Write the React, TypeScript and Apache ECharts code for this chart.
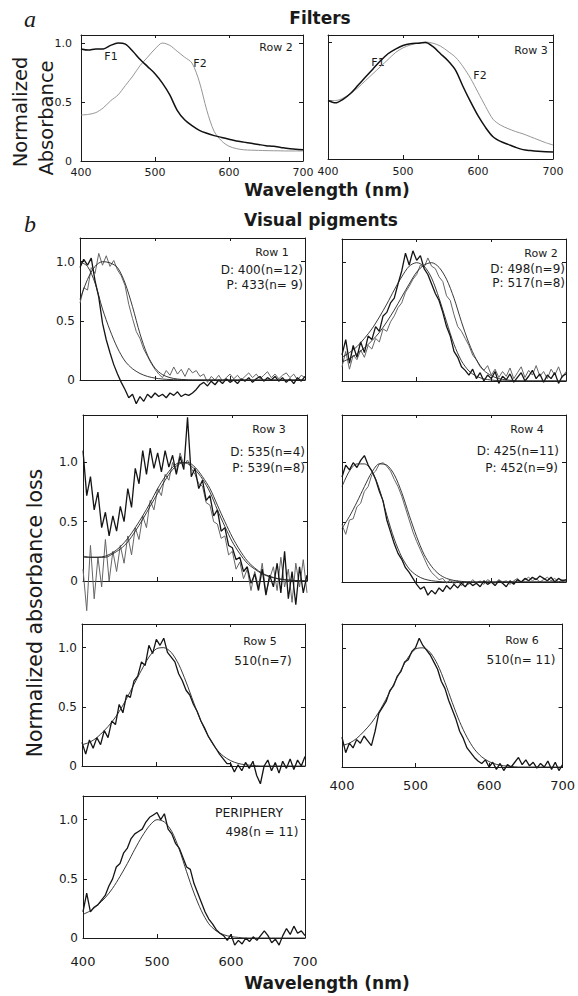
import React, { useEffect, useRef } from "react";
import * as echarts from "echarts";

// ---------- wavelength samplings (nm) ----------
const WL5 = [
  400, 405, 410, 415, 420, 425, 430, 435, 440, 445,
  450, 455, 460, 465, 470, 475, 480, 485, 490, 495,
  500, 505, 510, 515, 520, 525, 530, 535, 540, 545,
  550, 555, 560, 565, 570, 575, 580, 585, 590, 595,
  600, 605, 610, 615, 620, 625, 630, 635, 640, 645,
  650, 655, 660, 665, 670, 675, 680, 685, 690, 695,
  700,
];
const WL10 = [
  400, 410, 420, 430, 440, 450, 460, 470, 480, 490,
  500, 510, 520, 530, 540, 550, 560, 570, 580, 590,
  600, 610, 620, 630, 640, 650, 660, 670, 680, 690,
  700,
];
const X_TICKS = [400, 500, 600, 700];

// ---------- (a) Filters ----------
const FILT_ROW2_F1 = [0.95, 0.94, 0.95, 0.95, 0.98, 1.0, 0.99, 0.93, 0.86, 0.8, 0.74, 0.66, 0.56, 0.43, 0.35, 0.3, 0.26, 0.235, 0.215, 0.2, 0.185, 0.17, 0.16, 0.15, 0.14, 0.13, 0.125, 0.115, 0.105, 0.1, 0.095];
const FILT_ROW2_F2 = [0.39, 0.395, 0.41, 0.45, 0.51, 0.56, 0.64, 0.72, 0.81, 0.88, 0.95, 1.0, 0.98, 0.93, 0.88, 0.83, 0.67, 0.43, 0.25, 0.17, 0.125, 0.105, 0.095, 0.092, 0.09, 0.088, 0.087, 0.086, 0.085, 0.085, 0.085];
const FILT_ROW3_F1 = [0.5, 0.48, 0.51, 0.56, 0.63, 0.7, 0.77, 0.84, 0.9, 0.94, 0.97, 0.985, 0.99, 0.995, 0.96, 0.9, 0.84, 0.76, 0.62, 0.49, 0.37, 0.27, 0.19, 0.15, 0.125, 0.1, 0.08, 0.072, 0.066, 0.062, 0.06];
const FILT_ROW3_F2 = [0.5, 0.5, 0.52, 0.56, 0.61, 0.67, 0.73, 0.79, 0.85, 0.91, 0.95, 0.975, 0.99, 1.0, 0.99, 0.965, 0.92, 0.87, 0.79, 0.69, 0.57, 0.45, 0.34, 0.29, 0.26, 0.235, 0.215, 0.19, 0.165, 0.14, 0.12];

// ---------- (b) Visual pigments: measured difference spectra (5 nm) ----------
const ROW1_D = [
  0.95, 1.02, 0.97, 1.03, 0.84, 0.7, 0.48, 0.34, 0.23, 0.13,
  0.05, -0.02, -0.08, -0.15, -0.12, -0.2, -0.14, -0.18, -0.12, -0.15,
  -0.11, -0.14, -0.12, -0.15, -0.11, -0.13, -0.1, -0.14, -0.12, -0.13,
  -0.11, -0.08, -0.04, -0.02, -0.05, -0.01, -0.04, 0.0, -0.03, 0.01,
  -0.02, 0.0, -0.03, 0.01, -0.01, 0.02, -0.02, 0.01, 0.03, -0.01,
  0.02, 0.0, 0.03, -0.01, 0.02, -0.02, 0.01, -0.03, 0.02, -0.01,
  0.03,
];
const ROW1_P = [
  0.65, 0.78, 0.76, 0.95, 0.9, 1.07, 0.97, 1.05, 0.96, 1.01,
  0.93, 0.88, 0.8, 0.64, 0.52, 0.41, 0.35, 0.26, 0.2, 0.14,
  0.09, 0.05, 0.02, 0.08, 0.04, 0.11, 0.05, 0.09, 0.03, 0.1,
  0.06, 0.08, 0.03, 0.05, -0.02, 0.03, 0.0, 0.04, -0.01, 0.02,
  0.05, 0.01, 0.04, 0.0, 0.03, 0.06, 0.02, 0.05, 0.01, 0.04,
  0.07, 0.02, 0.05, 0.01, 0.04, 0.06, 0.02, 0.05, 0.0, 0.04,
  0.02,
];
const ROW2_D = [
  0.22, 0.35, 0.15, 0.3, 0.2, 0.33, 0.24, 0.38, 0.35, 0.46,
  0.42, 0.55, 0.58, 0.66, 0.7, 0.82, 0.93, 1.08, 0.98, 1.1,
  1.02, 1.06, 0.95, 0.9, 0.82, 0.74, 0.68, 0.58, 0.46, 0.38,
  0.25, 0.2, 0.12, 0.09, 0.05, 0.1, 0.02, 0.07, 0.0, 0.05,
  0.02, 0.08, -0.02, 0.04, 0.01, 0.06, -0.01, 0.03, 0.07, 0.0,
  0.04, 0.09, 0.02, 0.06, -0.01, 0.05, 0.02, 0.07, -0.02, 0.04,
  0.06,
];
const ROW2_P = [
  0.12, 0.25, 0.1, 0.22, 0.18, 0.26, 0.2, 0.3, 0.27, 0.36,
  0.33, 0.44, 0.42, 0.5, 0.55, 0.62, 0.66, 0.75, 0.8, 0.86,
  0.9, 0.98, 0.96, 1.04, 0.97, 0.95, 0.88, 0.84, 0.72, 0.68,
  0.56, 0.46, 0.42, 0.36, 0.3, 0.22, 0.18, 0.12, 0.09, 0.13,
  0.05, 0.1, 0.03, 0.08, 0.04, 0.11, 0.02, 0.07, 0.12, 0.03,
  0.09, 0.05, 0.13, 0.04, 0.08, 0.02, 0.1, 0.05, 0.12, 0.03,
  0.08,
];
const ROW3_D = [
  1.1, 0.72, 0.88, 0.6, 0.75, 0.45, 0.58, 0.38, 0.55, 0.42,
  0.63, 0.5, 0.78, 0.62, 0.95, 0.82, 1.1, 0.9, 1.12, 0.95,
  1.08, 0.92, 1.1, 0.96, 1.06, 0.9, 1.05, 0.94, 1.38, 0.88,
  0.95, 0.78, 0.85, 0.68, 0.72, 0.55, 0.6, 0.42, 0.45, 0.3,
  0.28, 0.18, 0.2, 0.08, 0.12, -0.02, 0.06, -0.08, 0.1, -0.12,
  0.05, -0.05, 0.15, -0.1, 0.25, -0.15, 0.08, -0.2, 0.12, -0.1,
  0.05,
];
const ROW3_P = [
  0.1, -0.25, 0.3, -0.15, 0.2, -0.05, 0.35, 0.0, 0.25, 0.08,
  0.3, 0.15, 0.38, 0.22, 0.45, 0.35, 0.55, 0.45, 0.68, 0.6,
  0.78, 0.72, 0.9, 0.85, 1.0, 0.92, 1.08, 0.98, 1.02, 0.95,
  0.9, 0.82, 0.8, 0.66, 0.64, 0.5, 0.48, 0.36, 0.38, 0.22,
  0.25, 0.1, 0.16, 0.02, 0.1, -0.08, 0.08, -0.05, 0.15, -0.1,
  0.02, 0.12, -0.08, 0.2, -0.05, 0.1, -0.18, 0.15, -0.05, 0.18,
  -0.1,
];
const ROW4_D = [
  0.88, 0.98, 0.94, 1.0, 0.96, 1.02, 1.06, 0.98, 0.93, 0.86,
  0.76, 0.68, 0.52, 0.42, 0.32, 0.24, 0.19, 0.12, 0.08, 0.03,
  -0.02, -0.06, -0.04, -0.11, -0.07, -0.1, -0.05, -0.08, -0.03, -0.06,
  -0.02, -0.05, -0.01, -0.04, 0.0, -0.03, -0.01, -0.04, 0.01, -0.02,
  0.0, -0.03, 0.01, -0.01, -0.04, 0.01, -0.02, 0.02, 0.0, 0.03,
  0.01, 0.04, 0.02, 0.05, 0.03, 0.01, 0.04, 0.0, 0.03, 0.01,
  0.02,
];
const ROW4_P = [
  0.48, 0.4, 0.52, 0.53, 0.63, 0.66, 0.76, 0.8, 0.9, 0.93,
  0.99, 1.0, 0.97, 0.93, 0.86, 0.8, 0.72, 0.62, 0.52, 0.42,
  0.34, 0.27, 0.2, 0.13, 0.08, 0.05, 0.02, 0.03, -0.01, 0.02,
  -0.02, 0.01, -0.03, 0.0, -0.02, 0.02, -0.01, 0.01, -0.02, 0.02,
  0.0, -0.01, 0.02, 0.0, 0.01, -0.02, 0.01, 0.03, 0.0, 0.02,
  0.04, 0.01, 0.03, 0.0, 0.02, 0.04, 0.01, 0.03, 0.0, 0.02,
  0.01,
];
const ROW5 = [
  0.2, 0.1, 0.22, 0.15, 0.24, 0.18, 0.3, 0.24, 0.38, 0.35,
  0.52, 0.45, 0.6, 0.58, 0.72, 0.76, 0.88, 0.85, 1.02, 0.95,
  1.07, 1.02, 1.08, 0.96, 0.92, 0.88, 0.78, 0.72, 0.64, 0.6,
  0.52, 0.46, 0.38, 0.32, 0.25, 0.2, 0.15, 0.1, 0.06, 0.02,
  0.02, -0.05, 0.01, -0.04, 0.03, -0.02, 0.04, -0.08, -0.15, 0.0,
  0.05, -0.04, 0.03, -0.06, 0.04, -0.02, 0.06, -0.03, 0.05, 0.0,
  0.08,
];
const ROW6 = [
  0.25, 0.12, 0.2, 0.16, 0.23, 0.2, 0.26, 0.22, 0.18, 0.3,
  0.45, 0.5, 0.55, 0.64, 0.68, 0.76, 0.8, 0.88, 0.9, 0.97,
  1.0, 1.08, 1.02, 0.98, 0.94, 0.88, 0.82, 0.72, 0.66, 0.56,
  0.48, 0.4, 0.3, 0.24, 0.16, 0.12, 0.08, 0.05, 0.03, 0.06,
  0.0, 0.04, -0.02, 0.03, -0.03, 0.02, 0.0, 0.04, 0.08, 0.02,
  0.06, 0.01, 0.04, -0.01, 0.03, 0.0, 0.05, -0.02, 0.04, -0.03,
  0.02,
];
const PERIPHERY = [
  0.22, 0.38, 0.22, 0.26, 0.28, 0.32, 0.36, 0.44, 0.5, 0.6,
  0.63, 0.72, 0.76, 0.84, 0.88, 0.9, 0.92, 0.98, 1.02, 1.04,
  1.06, 1.0, 1.05, 0.92, 0.88, 0.8, 0.76, 0.68, 0.6, 0.58,
  0.46, 0.38, 0.3, 0.22, 0.16, 0.12, 0.07, 0.04, 0.02, -0.02,
  0.03, -0.06, -0.02, -0.05, 0.0, -0.03, 0.01, -0.02, 0.02, 0.06,
  0.02, -0.04, -0.01, -0.06, 0.02, 0.08, 0.03, 0.1, 0.04, 0.06,
  0.02,
];

// ---------- template fits (10 nm) ----------
const FIT_400 = [1.0, 0.96, 0.82, 0.6, 0.42, 0.27, 0.16, 0.095, 0.055, 0.03, 0.016, 0.008, 0.004, 0.002, 0, 0, 0, 0, 0, 0, 0, 0, 0, 0, 0, 0, 0, 0, 0, 0, 0];
const FIT_433 = [0.68, 0.85, 0.96, 1.0, 0.99, 0.95, 0.82, 0.62, 0.39, 0.21, 0.1, 0.045, 0.02, 0.008, 0.003, 0, 0, 0, 0, 0, 0, 0, 0, 0, 0, 0, 0, 0, 0, 0, 0];
const FIT_498_R2 = [0.2, 0.24, 0.29, 0.36, 0.44, 0.54, 0.65, 0.77, 0.88, 0.97, 1.0, 0.97, 0.87, 0.7, 0.5, 0.31, 0.17, 0.085, 0.04, 0.018, 0.008, 0.003, 0, 0, 0, 0, 0, 0, 0, 0, 0];
const FIT_517 = [0.16, 0.19, 0.23, 0.28, 0.34, 0.41, 0.5, 0.6, 0.71, 0.82, 0.92, 0.98, 1.0, 0.96, 0.86, 0.7, 0.5, 0.32, 0.18, 0.09, 0.045, 0.02, 0.009, 0.004, 0, 0, 0, 0, 0, 0, 0];
const FIT_535 = [0.21, 0.2, 0.2, 0.21, 0.24, 0.29, 0.36, 0.45, 0.55, 0.66, 0.78, 0.88, 0.96, 1.0, 0.99, 0.94, 0.86, 0.75, 0.6, 0.46, 0.33, 0.23, 0.15, 0.1, 0.06, 0.035, 0.02, 0.01, 0.005, 0.002, 0];
const FIT_539 = [0.2, 0.2, 0.2, 0.2, 0.23, 0.27, 0.33, 0.42, 0.52, 0.63, 0.74, 0.85, 0.94, 0.99, 1.0, 0.96, 0.88, 0.78, 0.64, 0.5, 0.37, 0.26, 0.17, 0.11, 0.065, 0.04, 0.022, 0.012, 0.006, 0.003, 0];
const FIT_425 = [0.8, 0.93, 0.99, 0.99, 0.93, 0.78, 0.56, 0.36, 0.21, 0.11, 0.055, 0.025, 0.011, 0.004, 0, 0, 0, 0, 0, 0, 0, 0, 0, 0, 0, 0, 0, 0, 0, 0, 0];
const FIT_452 = [0.45, 0.55, 0.67, 0.8, 0.92, 0.99, 0.98, 0.9, 0.75, 0.56, 0.38, 0.23, 0.13, 0.065, 0.03, 0.013, 0.005, 0, 0, 0, 0, 0, 0, 0, 0, 0, 0, 0, 0, 0, 0];
const FIT_510 = [0.18, 0.2, 0.24, 0.3, 0.37, 0.46, 0.57, 0.69, 0.81, 0.92, 0.99, 1.0, 0.96, 0.86, 0.71, 0.54, 0.38, 0.25, 0.15, 0.085, 0.045, 0.022, 0.01, 0.005, 0, 0, 0, 0, 0, 0, 0];
const FIT_498_P = [0.2, 0.23, 0.28, 0.34, 0.42, 0.52, 0.63, 0.75, 0.86, 0.95, 1.0, 0.98, 0.9, 0.75, 0.56, 0.38, 0.23, 0.12, 0.06, 0.028, 0.012, 0.005, 0, 0, 0, 0, 0, 0, 0, 0, 0];

// ---------- layout (pixels) ----------
type Panel = {
  left: number; top: number; width: number; height: number; ymax: number;
  yLabels?: boolean; xLabels?: boolean; xMargin?: number; small?: boolean;
};
const PANELS: Panel[] = [
  { left: 81, top: 35, width: 222, height: 126, ymax: 1.068, yLabels: true, xLabels: true, xMargin: 6, small: true },
  { left: 328, top: 35, width: 225, height: 124, ymax: 1.06, xLabels: true, xMargin: 7, small: true },
  { left: 80, top: 238, width: 225, height: 142, ymax: 1.2, yLabels: true },
  { left: 342, top: 239, width: 224, height: 142, ymax: 1.2 },
  { left: 83, top: 415, width: 224, height: 166, ymax: 1.4, yLabels: true },
  { left: 342, top: 415, width: 224, height: 167, ymax: 1.4 },
  { left: 82, top: 624, width: 223, height: 142, ymax: 1.2, yLabels: true },
  { left: 342, top: 624, width: 224, height: 143, ymax: 1.2, xLabels: true, xMargin: 12 },
  { left: 83, top: 796, width: 222, height: 142, ymax: 1.2, yLabels: true, xLabels: true, xMargin: 17 },
];

type Kind = "fDark" | "fLight" | "dark" | "gray" | "fit";
const TRACES: { p: number; x: number[]; y: number[]; k: Kind }[] = [
  { p: 0, x: WL10, y: FILT_ROW2_F2, k: "fLight" },
  { p: 0, x: WL10, y: FILT_ROW2_F1, k: "fDark" },
  { p: 1, x: WL10, y: FILT_ROW3_F2, k: "fLight" },
  { p: 1, x: WL10, y: FILT_ROW3_F1, k: "fDark" },
  { p: 2, x: WL5, y: ROW1_P, k: "gray" },
  { p: 2, x: WL5, y: ROW1_D, k: "dark" },
  { p: 2, x: WL10, y: FIT_400, k: "fit" },
  { p: 2, x: WL10, y: FIT_433, k: "fit" },
  { p: 3, x: WL5, y: ROW2_P, k: "gray" },
  { p: 3, x: WL5, y: ROW2_D, k: "dark" },
  { p: 3, x: WL10, y: FIT_498_R2, k: "fit" },
  { p: 3, x: WL10, y: FIT_517, k: "fit" },
  { p: 4, x: WL5, y: ROW3_P, k: "gray" },
  { p: 4, x: WL5, y: ROW3_D, k: "dark" },
  { p: 4, x: WL10, y: FIT_535, k: "fit" },
  { p: 4, x: WL10, y: FIT_539, k: "fit" },
  { p: 5, x: WL5, y: ROW4_P, k: "gray" },
  { p: 5, x: WL5, y: ROW4_D, k: "dark" },
  { p: 5, x: WL10, y: FIT_425, k: "fit" },
  { p: 5, x: WL10, y: FIT_452, k: "fit" },
  { p: 6, x: WL5, y: ROW5, k: "dark" },
  { p: 6, x: WL10, y: FIT_510, k: "fit" },
  { p: 7, x: WL5, y: ROW6, k: "dark" },
  { p: 7, x: WL10, y: FIT_510, k: "fit" },
  { p: 8, x: WL5, y: PERIPHERY, k: "dark" },
  { p: 8, x: WL10, y: FIT_498_P, k: "fit" },
];

const STYLE: Record<Kind, { color: string; width: number; smooth: number | boolean; z: number }> = {
  fDark: { color: "#111", width: 1.5, smooth: 0.3, z: 3 },
  fLight: { color: "#8a8a8a", width: 0.9, smooth: 0.3, z: 2 },
  dark: { color: "#141414", width: 1.3, smooth: false, z: 3 },
  gray: { color: "#666", width: 1.0, smooth: false, z: 2 },
  fit: { color: "#222", width: 0.9, smooth: 0.3, z: 4 },
};

const FONT = "DejaVu Sans";
const INK = "#1a1a1a";

function txt(text: string, x: number, y: number, size: number, align = "center", extra: any = {}) {
  return {
    type: "text",
    x,
    y,
    rotation: extra.rotation || 0,
    silent: true,
    style: {
      text,
      x: 0,
      y: 0,
      fill: INK,
      fontSize: size,
      fontFamily: extra.family || FONT,
      fontWeight: extra.weight || "normal",
      fontStyle: extra.style || "normal",
      align,
      verticalAlign: "middle",
      textAlign: align,
      textVerticalAlign: "middle",
    },
  };
}

const ANNOTATIONS = [
  // headings
  txt("a", 30, 19, 24, "center", { family: "Liberation Serif", style: "italic" }),
  txt("b", 30, 224, 24, "center", { family: "Liberation Serif", style: "italic" }),
  txt("Filters", 320, 18, 17, "center", { weight: "bold" }),
  txt("Wavelength (nm)", 327, 190, 17, "center", { weight: "bold" }),
  txt("Visual pigments", 321, 220, 17, "center", { weight: "bold" }),
  txt("Wavelength (nm)", 327, 983, 17, "center", { weight: "bold" }),
  txt("Normalized", 20, 112, 19.5, "center", { rotation: Math.PI / 2 }),
  txt("Absorbance", 46, 118, 19.5, "center", { rotation: Math.PI / 2 }),
  txt("Normalized absorbance loss", 35, 613, 20.5, "center", { rotation: Math.PI / 2 }),
  // filter panels
  txt("Row 2", 276, 47, 11),
  txt("F1", 111, 56, 11),
  txt("F2", 200, 63, 11),
  txt("Row 3", 531, 50, 11),
  txt("F1", 378, 62, 11),
  txt("F2", 480, 75, 11),
  // pigment panels
  txt("Row 1", 272, 252, 11),
  txt("D: 400(n=12)", 303, 270, 12, "right"),
  txt("P: 433(n= 9)", 303, 285, 12, "right"),
  txt("Row 2", 541, 253, 11),
  txt("D: 498(n=9)", 565, 269, 12, "right"),
  txt("P: 517(n=8)", 565, 283, 12, "right"),
  txt("Row 3", 269, 429, 11),
  txt("D: 535(n=4)", 305, 452, 12, "right"),
  txt("P: 539(n=8)", 305, 468, 12, "right"),
  txt("Row 4", 527, 429, 11),
  txt("D: 425(n=11)", 559, 451, 12, "right"),
  txt("P: 452(n=9)", 558, 468, 12, "right"),
  txt("Row 5", 260, 641, 11),
  txt("510(n=7)", 263, 661, 12),
  txt("Row 6", 522, 640, 11),
  txt("510(n= 11)", 521, 660, 12),
  txt("PERIPHERY", 249, 812, 12.5),
  txt("498(n = 11)", 262, 832, 12),
];

function buildOption() {
  const grid: any[] = [];
  const xAxis: any[] = [];
  const yAxis: any[] = [];
  PANELS.forEach((p, i) => {
    grid.push({ left: p.left, top: p.top, width: p.width, height: p.height, containLabel: false });
    const line = { show: true, onZero: false, lineStyle: { color: INK, width: 1 } };
    xAxis.push({
      type: "value", gridIndex: i, position: "bottom",
      min: X_TICKS[0], max: X_TICKS[X_TICKS.length - 1], interval: 100,
      axisLine: line,
      axisTick: { show: true, inside: true, length: 4, lineStyle: { color: INK } },
      axisLabel: {
        show: !!p.xLabels, margin: p.xMargin ?? 6, color: INK, fontFamily: FONT,
        fontSize: p.small ? 11 : 13,
      },
      splitLine: { show: false },
    });
    xAxis.push({
      type: "value", gridIndex: i, position: "top",
      min: X_TICKS[0], max: X_TICKS[X_TICKS.length - 1], interval: 100,
      axisLine: line,
      axisTick: { show: true, inside: true, length: 3, lineStyle: { color: INK } },
      axisLabel: { show: false },
      splitLine: { show: false },
    });
    yAxis.push({
      type: "value", gridIndex: i, position: "left", min: 0, max: p.ymax, interval: 0.5,
      axisLine: line,
      axisTick: { show: true, inside: true, length: 4, lineStyle: { color: INK } },
      axisLabel: {
        show: !!p.yLabels, showMaxLabel: false, margin: p.small ? 9 : 5, color: INK, fontFamily: FONT,
        fontSize: p.small ? 11 : 12,
        formatter: (v: number) => (v === 0 ? "0" : v.toFixed(1)),
      },
      splitLine: { show: false },
    });
    yAxis.push({
      type: "value", gridIndex: i, position: "right", min: 0, max: p.ymax, interval: 0.5,
      axisLine: line,
      axisTick: { show: true, inside: true, length: 4, lineStyle: { color: INK } },
      axisLabel: { show: false },
      splitLine: { show: false },
    });
  });

  const series = TRACES.map((t) => {
    const s = STYLE[t.k];
    return {
      type: "line",
      xAxisIndex: t.p * 2,
      yAxisIndex: t.p * 2,
      data: t.x.map((w, j) => [w, t.y[j]]),
      showSymbol: false,
      symbol: "none",
      clip: false,
      smooth: s.smooth,
      silent: true,
      z: s.z,
      lineStyle: { color: s.color, width: s.width },
    };
  });

  return {
    animation: false,
    backgroundColor: "#fff",
    grid,
    xAxis,
    yAxis,
    series,
    graphic: { elements: ANNOTATIONS },
  };
}

export default function App() {
  const ref = useRef<HTMLDivElement>(null);
  useEffect(() => {
    if (!ref.current) return;
    const chart = echarts.init(ref.current, null, { renderer: "svg" });
    chart.setOption(buildOption() as any);
    return () => chart.dispose();
  }, []);
  return (
    <div
      ref={ref}
      style={{ position: "absolute", left: 0, top: 0, width: 578, height: 996, background: "#fff" }}
    />
  );
}
